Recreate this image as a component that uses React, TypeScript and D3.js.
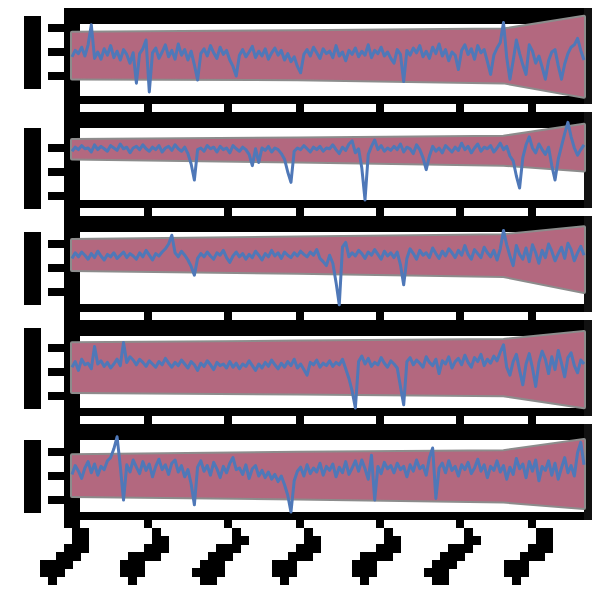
import * as d3 from "d3";

// semi-monthly samples, first one at the start of 2013
const startYear = 2013;
const stepYears = 1 / 24;

const series1 = [
  5.4, 6.2, 5.8, 6.6, 5.5, 6.9, 9.4, 5.2, 6.0, 5.1, 6.4, 5.6, 6.8, 5.3, 6.1, 5.0, 6.3, 5.7, 4.6, 5.9,
  2.1, 5.8, 6.4, 7.5, 1.0, 5.9, 6.5, 5.2, 6.0, 6.9, 5.4, 6.2, 5.1, 7.0, 5.6, 6.3, 5.0, 6.1, 4.4, 2.5,
  5.8, 6.4, 5.5, 6.8, 5.9, 5.2, 6.6, 5.7, 6.2, 5.0, 4.2, 3.0, 5.6, 6.3, 5.4, 6.0, 6.7, 5.3, 6.1, 5.5,
  6.4, 5.1, 5.9, 6.5, 5.6, 6.2, 5.0, 5.8, 4.8, 5.4, 4.2, 3.4, 5.7, 6.3, 5.5, 6.6, 5.9, 5.2, 6.4, 5.8,
  6.1, 5.3, 6.8, 5.5, 6.0, 4.9, 6.2, 5.7, 6.5, 5.4, 6.1, 5.6, 6.9, 5.3, 6.2, 5.8, 6.6, 5.5, 6.0, 5.2,
  4.6, 6.3, 5.7, 2.3, 6.2, 5.6, 6.5, 5.9, 6.8, 5.4, 6.1, 5.2, 6.6, 5.8, 7.0, 5.5, 6.3, 4.9, 6.0, 5.6,
  3.8, 6.2, 6.9, 5.7, 6.4, 5.1, 6.8, 5.9, 6.3, 4.8, 3.2, 5.6, 6.5, 7.2, 9.7, 5.3, 2.6, 4.9, 7.5, 5.8,
  4.4, 3.2, 6.9, 6.1, 4.6, 5.5, 4.1, 2.6, 4.9, 6.0, 6.3, 4.3, 2.6, 4.5, 5.8, 6.6, 6.9, 7.7, 6.2, 5.0,
];
const series2 = [
  6.6, 7.1, 6.8, 7.3, 6.9, 7.0, 6.5, 7.4, 6.8, 7.2, 6.9, 6.6, 7.3, 7.0, 6.7, 7.5, 6.9, 7.1, 6.4, 7.0,
  7.2, 6.8, 7.4, 6.9, 6.6, 7.1, 6.8, 7.3, 6.5, 7.0, 7.2, 6.7, 7.4, 6.9, 6.6, 7.1, 6.3, 5.0, 3.0, 6.8,
  7.0, 6.6, 7.3, 6.9, 7.1, 6.5, 7.2, 6.8, 7.0, 6.4, 7.3, 6.9, 6.6, 7.1, 6.8, 6.2, 4.8, 6.9, 5.2, 7.0,
  6.7, 7.2, 6.5, 7.0, 6.8, 6.3, 5.6, 4.0, 2.7, 6.6, 7.0, 6.8, 7.3, 6.9, 6.5, 7.1, 6.8, 7.2, 6.6, 7.0,
  6.9, 7.4, 6.8, 6.3, 7.1, 6.7, 7.5, 7.9, 6.4, 6.9, 4.5, 0.5, 6.2, 7.2, 8.0, 6.8, 7.3, 6.6, 7.0, 6.7,
  7.2, 6.8, 7.5, 6.5, 7.1, 6.9, 6.3, 7.4, 6.8, 5.8, 4.3, 6.0, 7.2, 6.6, 7.0, 6.4, 7.3, 6.9, 6.5, 7.1,
  6.7, 7.6, 6.8, 7.2, 6.4, 7.0, 7.5, 6.6, 7.1, 6.9, 7.3, 6.5, 7.0, 7.6, 6.8, 7.2, 6.0, 5.4, 3.5, 2.0,
  5.8, 7.4, 8.4, 7.0, 6.4, 7.5, 6.8, 6.2, 7.1, 4.8, 3.0, 5.6, 7.2, 8.8, 10.2, 8.4, 7.0, 6.1, 6.8, 7.4,
];
const series3 = [
  6.2, 6.9, 6.4, 7.0, 6.6, 6.1, 6.8, 6.3, 7.1, 6.5, 6.0, 6.7, 6.4, 6.9, 6.2, 6.6, 7.0, 6.3, 6.8, 6.5,
  6.1, 6.9, 6.4, 7.2, 6.6, 6.0, 6.8, 6.5, 7.0, 7.4, 8.0, 9.1, 6.9, 6.4, 7.1, 6.6, 6.0, 5.2, 4.1, 6.2,
  6.8, 6.4, 7.0, 6.5, 6.1, 6.9, 6.6, 7.2, 6.3, 5.7, 6.5, 7.0, 6.4, 6.8, 6.1, 6.7, 6.3, 7.1, 6.6, 6.0,
  6.8, 6.4, 7.2, 6.5, 6.9, 6.2, 7.0, 6.6, 6.3, 6.9, 6.5, 7.1, 6.7, 6.4, 7.0, 6.6, 7.3, 6.2, 5.8, 5.3,
  6.6, 5.6, 3.2, 0.4, 7.6, 8.2, 6.4, 6.9, 6.5, 7.2, 6.8, 6.2, 7.0, 6.6, 7.3, 6.7, 6.1, 7.1, 6.5, 6.9,
  6.3, 7.0, 5.4, 2.9, 6.2, 7.4, 6.8, 6.1, 7.2, 6.6, 6.9, 6.3, 7.5, 6.8, 6.2, 7.1, 6.5, 7.4, 6.9, 6.3,
  7.2, 6.6, 7.8, 6.7, 6.1, 7.3, 6.8, 6.3, 7.6, 6.9, 6.4, 7.2, 6.0, 7.4, 9.7, 7.9, 6.5, 5.3, 7.8, 6.7,
  6.1, 7.5, 5.8, 7.9, 6.9, 5.6, 7.2, 6.3, 8.0, 7.1, 5.9, 6.8, 7.6, 6.2, 8.1, 7.3, 5.9, 6.9, 7.7, 6.6,
];
const series4 = [
  5.6, 6.3, 5.2, 6.6, 5.9, 6.1, 5.4, 8.2, 6.0, 6.4, 5.7, 6.2, 5.5, 6.0, 6.6, 5.8, 8.7, 6.2, 6.9, 6.5,
  5.9, 6.6, 6.2, 5.7, 6.4, 6.0, 5.6, 6.3, 5.9, 6.7, 6.1, 5.6, 6.2, 5.8, 6.5, 6.0, 5.5, 6.3, 5.9, 5.2,
  6.1, 5.7, 6.4, 5.9, 5.3, 6.2, 5.8, 6.0, 5.5, 6.3, 5.6, 6.1, 5.4, 6.0, 5.7, 6.4, 5.8, 5.2, 6.0, 5.5,
  6.2, 5.7, 6.5, 5.9, 5.4, 6.1, 5.6, 6.3, 5.8, 6.6, 5.5, 6.0, 5.3, 4.6, 6.2, 5.9, 6.5, 5.6, 6.1, 5.8,
  6.4, 5.7, 6.2, 5.9, 6.6, 5.4, 4.2, 2.6, 0.5, 6.3, 7.0, 6.0, 6.7, 5.7, 6.2, 5.9, 6.8, 6.1, 5.6, 6.4,
  6.0, 5.5, 3.2, 0.9, 6.3, 6.8, 5.9, 6.5, 6.1, 5.6, 6.9, 6.2, 5.8, 6.6, 4.8, 6.4, 6.0, 6.9, 5.5, 6.3,
  6.7, 5.9, 7.1, 6.2, 5.6, 6.8, 6.3, 7.2, 5.8, 6.6, 6.1, 7.0, 6.4, 7.5, 8.4, 5.6, 4.6, 6.3, 7.2, 5.2,
  3.4, 6.0, 7.3, 5.5, 3.2, 6.2, 7.6, 6.6, 4.8, 6.9, 5.3, 7.7, 6.1, 4.4, 6.8, 7.4, 5.8, 4.9, 6.5, 6.0,
];
const series5 = [
  5.2, 6.3, 5.6, 4.7, 6.0, 6.8, 5.4, 6.5, 5.1, 6.2, 5.8, 6.9, 7.3, 8.4, 9.9, 6.2, 2.0, 6.4, 5.5, 7.0,
  6.1, 5.3, 6.8, 5.7, 6.5, 4.9, 6.2, 7.1, 5.8, 6.4, 5.2, 6.6, 7.0, 5.5, 6.3, 4.9, 5.8, 4.0, 1.4, 6.1,
  6.9, 5.6, 6.3, 5.1, 6.7, 5.9, 4.8, 6.2, 5.4, 6.6, 7.3, 5.8, 6.0, 5.2, 6.4, 4.7, 5.9, 6.3, 5.0, 5.7,
  4.8, 5.5, 4.6, 5.2, 4.3, 5.0, 3.9, 2.6, 0.5, 4.4, 5.6, 6.1, 5.0, 6.4, 5.3, 6.0, 5.5, 6.6, 5.1, 6.2,
  5.7, 6.5, 4.9, 6.1, 5.4, 6.8, 5.2, 6.0, 6.9, 5.6, 7.0, 5.9, 4.6, 7.6, 2.0, 6.2, 5.3, 6.7, 5.9, 6.3,
  5.4, 6.6, 5.8, 6.2, 4.9, 6.4, 5.6, 7.0, 5.9, 6.3, 5.1, 7.3, 8.5, 2.2, 6.0, 6.6, 5.4, 6.9, 5.7, 6.2,
  5.0, 6.4, 5.8, 6.7, 5.3, 6.0, 7.1, 5.6, 6.4, 4.8, 6.2, 5.7, 6.9, 5.5, 6.3, 4.6, 6.1, 5.2, 7.2, 5.9,
  6.5, 4.8, 6.8, 5.6, 7.0, 4.4, 6.2, 5.7, 6.9, 5.1, 6.6, 4.6, 6.0, 7.3, 5.4, 6.3, 5.0, 7.9, 9.2, 6.4,
];

// interval band, given at a few sample indices
const bandIdx = [0, 70, 134, 159];
const band1Lo = [2.7, 2.6, 2.2, 0.4];
const band1Hi = [8.4, 8.6, 8.8, 10.4];
const band2Lo = [5.7, 5.3, 4.9, 4.2];
const band2Hi = [8.0, 8.2, 8.4, 9.9];
const band3Lo = [4.75, 4.4, 4.0, 2.0];
const band3Hi = [8.5, 8.8, 9.1, 10.1];
const band4Lo = [2.5, 2.3, 2.1, 0.6];
const band4Hi = [8.6, 8.8, 9.0, 10.0];
const band5Lo = [2.5, 2.2, 1.8, 1.0];
const band5Hi = [7.6, 7.9, 8.1, 9.5];

const yTicks1 = [3, 6, 9];
const yTicks2 = [1.5, 4.5, 7.5];
const yTicks3 = [2, 5, 8];
const yTicks4 = [2.5, 5.5, 8.5];
const yTicks5 = [2, 5, 8];
const yTickLabels = ["0", "1", "2"];

const panels = [
  { values: series1, lo: band1Lo, hi: band1Hi, ticks: yTicks1 },
  { values: series2, lo: band2Lo, hi: band2Hi, ticks: yTicks2 },
  { values: series3, lo: band3Lo, hi: band3Hi, ticks: yTicks3 },
  { values: series4, lo: band4Lo, hi: band4Hi, ticks: yTicks4 },
  { values: series5, lo: band5Lo, hi: band5Hi, ticks: yTicks5 },
];

const PINK = "#b3687f";
const BLUE = "#4f78b8";
const snap = (v: number) => Math.floor(v / 8) * 8;

// 8px "pixel" look for the labels: fatten, sample one pixel per cell, grow back
const Pixelate = ({ id, r }: { id: string; r: string }) => (
  <filter id={id} x="0" y="0" width="600" height="600" filterUnits="userSpaceOnUse">
    <feMorphology in="SourceGraphic" operator="dilate" radius={r} result="fat" />
    <feFlood x="4" y="4" width="1" height="1" floodColor="#000" result="dot" />
    <feComposite in="dot" in2="dot" x="0" y="0" width="8" height="8" result="cell" />
    <feTile in="cell" result="grid" />
    <feComposite in="fat" in2="grid" operator="in" result="samp" />
    <feComponentTransfer in="samp" result="th">
      <feFuncA type="discrete" tableValues="0 1" />
    </feComponentTransfer>
    <feMorphology in="th" operator="dilate" radius="4" />
  </filter>
);

export default function App() {
  const n = series1.length;
  const x = d3
    .scaleLinear()
    .domain([startYear, startYear + (n - 1) * stepYears])
    .range([72, 584]);
  const xTicks = x.ticks(7);
  const xAt = (i: number) => x(startYear + i * stepYears);

  return (
    <svg width={584} height={584} style={{ display: "block" }}>
      <defs>
        <Pixelate id="pxY" r="4 7" />
        <Pixelate id="pxX" r="2 5" />
      </defs>
      <g transform="translate(-8,-8)">
        {panels.map((p, pi) => {
          const T = 8 + 104 * pi;
          const y = d3.scaleLinear().domain([0, 10]).range([T + 92, T + 12]);
          const line = d3
            .line<number>()
            .x((_, i) => xAt(i))
            .y((v) => y(v));
          const area = d3
            .area<number>()
            .x((k) => xAt(k))
            .y0((_, j) => y(p.lo[j]))
            .y1((_, j) => y(p.hi[j]));
          return (
            <g key={pi}>
              {/* spines */}
              <rect x={64} y={T} width={528} height={16} fill="#000" />
              <rect x={64} y={T + 88} width={528} height={8} fill="#000" />
              <rect x={64} y={T} width={16} height={104} fill="#000" />
              <rect x={584} y={T} width={8} height={96} fill="#111" />
              {xTicks.map((t) => (
                <rect key={t} x={snap(x(t))} y={T + 96} width={8} height={8} fill="#000" />
              ))}
              {p.ticks.map((t) => (
                <rect key={t} x={48} y={snap(y(t))} width={16} height={8} fill="#000" />
              ))}
              <path
                d={area(bandIdx) ?? ""}
                fill={PINK}
                stroke="#8c8c8c"
                strokeWidth={4}
                strokeLinejoin="round"
                paintOrder="stroke"
              />
              <path
                d={line(p.values) ?? ""}
                fill="none"
                stroke={BLUE}
                strokeWidth={3}
                strokeLinejoin="round"
              />
            </g>
          );
        })}
        <g filter="url(#pxY)" fontFamily="DejaVu Sans" fontWeight="bold" fill="#000">
          {panels.map((p, pi) => {
            const T = 8 + 104 * pi;
            const y = d3.scaleLinear().domain([0, 10]).range([T + 92, T + 12]);
            return p.ticks.map((t, j) => (
              <text key={`${pi}-${t}`} x={38} y={y(t) + 7} fontSize={18} textAnchor="end">
                {yTickLabels[j]}
              </text>
            ));
          })}
        </g>
        <g filter="url(#pxX)" fontFamily="DejaVu Sans" fontWeight="bold" fill="#000">
          {xTicks.map((t) => (
            <text
              key={t}
              x={0}
              y={0}
              fontSize={16}
              letterSpacing={4}
              textAnchor="middle"
              dominantBaseline="central"
              transform={`translate(${x(t) - 4},556) rotate(-45)`}
            >
              {d3.format("d")(t)}
            </text>
          ))}
        </g>
      </g>
    </svg>
  );
}
